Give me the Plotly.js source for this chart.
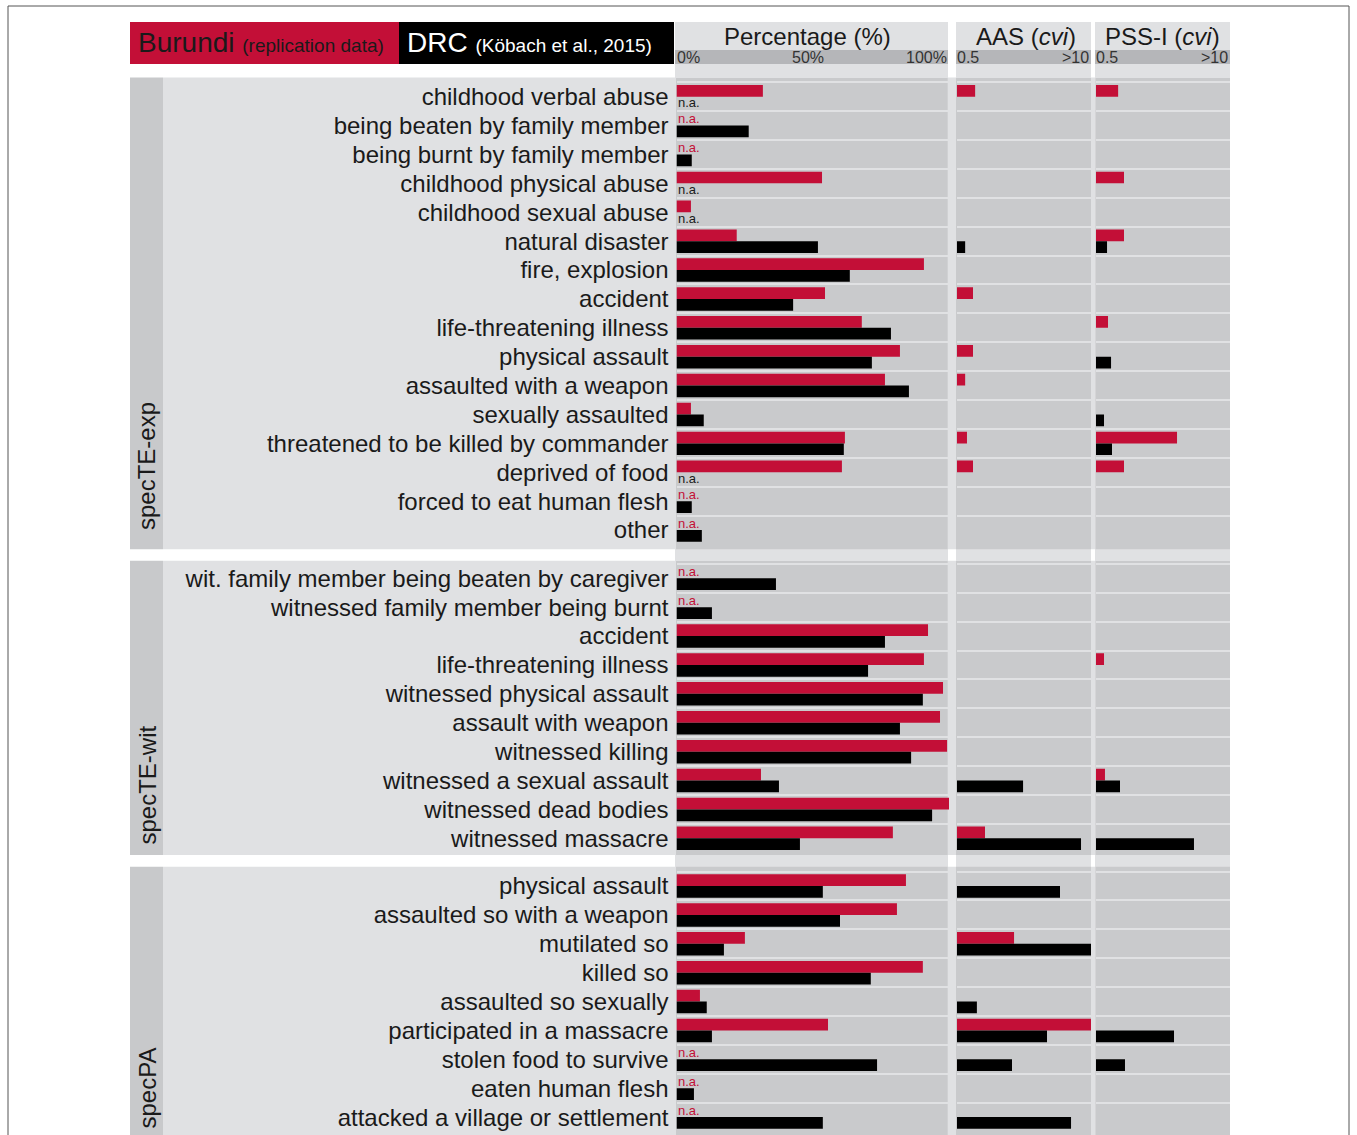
<!DOCTYPE html>
<html>
<head>
<meta charset="utf-8">
<script src="https://cdn.plot.ly/plotly-3.0.1.min.js"></script>
<style>
html,body{margin:0;padding:0;background:#fff;}
#chart{width:1357px;height:1135px;}
</style>
</head>
<body>
<div id="chart"></div>
<script>
// ===================== DATA =====================
const groupNames = ["specTE-exp", "specTE-wit", "specPA"];

const expLabels = ["childhood verbal abuse","being beaten by family member","being burnt by family member",
  "childhood physical abuse","childhood sexual abuse","natural disaster","fire, explosion","accident",
  "life-threatening illness","physical assault","assaulted with a weapon","sexually assaulted",
  "threatened to be killed by commander","deprived of food","forced to eat human flesh","other"];
const expBurundiPct = [31.7, null, null, 53.4, 5.3, 22.1, 90.8, 54.5, 68.0, 82.0, 76.5, 5.3, 61.8, 60.7, null, null];
const expDrcPct     = [null, 26.5, 5.6, null, null, 51.9, 63.6, 42.8, 78.7, 71.7, 85.3, 10.0, 61.4, null, 5.6, 9.3];
const expBurundiAAS = [0.75, null, null, null, null, null, null, 0.715, null, 0.715, 0.60, null, 0.625, 0.715, null, null];
const expDrcAAS     = [null, null, null, null, null, 0.60, null, null, null, null, null, null, null, null, null, null];
const expBurundiPSS = [0.82, null, null, 0.935, null, 0.935, null, null, 0.654, null, null, null, 3.06, 0.935, null, null];
const expDrcPSS     = [null, null, null, null, null, 0.64, null, null, null, 0.70, null, 0.598, 0.715, null, null, null];

const witLabels = ["wit. family member being beaten by caregiver","witnessed family member being burnt","accident",
  "life-threatening illness","witnessed physical assault","assault with weapon","witnessed killing",
  "witnessed a sexual assault","witnessed dead bodies","witnessed massacre"];
const witBurundiPct = [null, null, 92.3, 90.8, 97.8, 96.7, 99.3, 31.0, 100, 79.4];
const witDrcPct     = [36.5, 13.0, 76.5, 70.3, 90.4, 82.0, 86.1, 37.6, 93.8, 45.3];
const witBurundiAAS = [null, null, null, null, null, null, null, null, null, 0.935];
const witDrcAAS     = [null, null, null, null, null, null, null, 2.19, null, 8.0];
const witBurundiPSS = [null, null, null, 0.598, null, null, null, 0.611, null, null];
const witDrcPSS     = [null, null, null, null, null, null, null, 0.855, null, 4.47];

const paLabels = ["physical assault","assaulted so with a weapon","mutilated so","killed so","assaulted so sexually",
  "participated in a massacre","stolen food to survive","eaten human flesh","attacked a village or settlement"];
const paBurundiPct = [84.2, 80.9, 25.1, 90.4, 8.6, 55.6, null, null, null];
const paDrcPct     = [53.7, 60.0, 17.4, 71.3, 11.1, 13.0, 73.6, 6.4, 53.7];
const paBurundiAAS = [null, null, 1.79, null, null, 12, null, null, null];
const paDrcAAS     = [5.0, null, 12, null, 0.78, 3.74, 1.71, null, 6.4];
const paBurundiPSS = [null, null, null, null, null, null, null, null, null];
const paDrcPSS     = [null, null, null, null, null, 2.86, 0.956, null, null];

const pctTickVals = [0, 50, 100];
const pctTickText = ["0%", "50%", "100%"];
const cviTickVals = [0.5, 10];
const cviTickText = ["0.5", ">10"];
const columnTitles = ["Percentage (%)", "AAS (<i>cvi</i>)", "PSS-I (<i>cvi</i>)"];
const seriesNames = ["Burundi <span style='font-size:19px'>(replication data)</span>",
                     "DRC <span style='font-size:19px'>(Köbach et al., 2015)</span>"];

// ===================== STYLE / GEOMETRY =====================
const W = 1357, H = 1135;
const fx = px => px / W;
const fy = py => 1 - py / H;
const RED = "#c30f37", BLACK = "#000000";
const LIGHT = "#e0e1e3", PANEL = "#c9cacc", STRIP = "#c8c9cb", TICKBAND = "#b5b6b9";
const FONT = "Liberation Sans, Arial, Helvetica, sans-serif";
const PITCH = 28.89;

const groups = [
  {labels: expLabels, pct: [expBurundiPct, expDrcPct], aas: [expBurundiAAS, expDrcAAS], pss: [expBurundiPSS, expDrcPSS],
   top: 78, bottom: 549.3, c0: 96.7, band: [77.5, 549.3], stripY: 466.5},
  {labels: witLabels, pct: [witBurundiPct, witDrcPct], aas: [witBurundiAAS, witDrcAAS], pss: [witBurundiPSS, witDrcPSS],
   top: 561, bottom: 855, c0: 578.3, band: [560.7, 855], stripY: 785},
  {labels: paLabels, pct: [paBurundiPct, paDrcPct], aas: [paBurundiAAS, paDrcAAS], pss: [paBurundiPSS, paDrcPSS],
   top: 866.7, bottom: 1135, c0: 886, band: [866.7, 1170], stripY: 1088}
];
const cols = [
  {dom: [676.5, 949], bg: [675, 948], panel: [676, 947.7], titleX: 807.5},
  {dom: [957, 1091], bg: [956, 1091], panel: [956, 1091], titleX: 1026},
  {dom: [1096, 1230], bg: [1095, 1230], panel: [1095.5, 1230], titleX: 1162}
];
const seriesColors = [RED, BLACK];

// ===================== TRACES =====================
const traces = [];
groups.forEach((g, gi) => {
  const yname = gi === 0 ? "y" : "y" + (gi + 1);
  const colData = [g.pct, g.aas, g.pss];
  colData.forEach((pair, ci) => {
    const xname = ci === 0 ? "x" : "x" + (ci + 1);
    pair.forEach((vals, si) => {
      traces.push({
        type: "bar", orientation: "h",
        x: vals, y: g.labels,
        xaxis: xname, yaxis: yname,
        marker: {color: seriesColors[si], line: {width: 0}},
        hoverinfo: "skip", showlegend: false
      });
    });
  });
});

// ===================== LAYOUT =====================
const layout = {
  width: W, height: H, autosize: false,
  margin: {l: 0, r: 0, t: 0, b: 0, pad: 0},
  paper_bgcolor: "#ffffff", plot_bgcolor: "rgba(0,0,0,0)",
  barmode: "group", bargap: 0.187, bargroupgap: 0,
  font: {family: FONT, color: "#1a1a1a"},
  showlegend: false,
  shapes: [], annotations: []
};

const lg = Math.log10;
cols.forEach((c, ci) => {
  const name = ci === 0 ? "xaxis" : "xaxis" + (ci + 1);
  layout[name] = {
    domain: [fx(c.dom[0]), fx(c.dom[1])],
    type: ci === 0 ? "linear" : "log",
    range: ci === 0 ? [0, 100] : [lg(0.5), lg(10)],
    anchor: "y", showgrid: false, zeroline: false, showticklabels: false, ticks: "",
    showline: false, fixedrange: true
  };
});
groups.forEach((g, gi) => {
  const name = gi === 0 ? "yaxis" : "yaxis" + (gi + 1);
  const vTop = -(g.c0 - g.top) / PITCH;
  const vBot = (g.bottom - g.c0) / PITCH;
  layout[name] = {
    domain: [fy(g.bottom), fy(g.top)],
    type: "category", categoryorder: "array", categoryarray: g.labels,
    range: [vBot, vTop],
    tickmode: "linear", tick0: 0, dtick: 1,
    anchor: "x", tickson: "boundaries",
    showgrid: true, gridcolor: LIGHT, gridwidth: 2,
    zeroline: false, showline: false, ticks: "",
    tickfont: {family: FONT, size: 24, color: "#1a1a1a"},
    ticklabelstandoff: 7, fixedrange: true
  };
});

// ---- background shapes ----
const rect = (x0, x1, y0, y1, fill) => ({
  type: "rect", xref: "paper", yref: "paper", layer: "below",
  x0: fx(x0), x1: fx(x1), y0: fy(y1), y1: fy(y0),
  fillcolor: fill, line: {width: 0}
});
cols.forEach(c => layout.shapes.push(rect(c.bg[0], c.bg[1], 22, 1170, LIGHT)));
groups.forEach(g => {
  layout.shapes.push(rect(163, 1230, g.band[0], g.band[1], LIGHT));
  layout.shapes.push(rect(130, 163, g.band[0], g.band[1], STRIP));
});
cols.forEach(c => layout.shapes.push(rect(c.bg[0], c.bg[1], 50, 64, TICKBAND)));
groups.forEach(g => cols.forEach(c => layout.shapes.push(rect(c.panel[0], c.panel[1], g.top, g.bottom, PANEL))));
layout.shapes.push(rect(130, 399, 22, 64, RED));
layout.shapes.push(rect(399, 674, 22, 64, BLACK));
layout.shapes.push({type: "rect", xref: "paper", yref: "paper", layer: "above",
  x0: fx(8), x1: fx(1349), y0: fy(1170), y1: fy(6),
  fillcolor: "rgba(0,0,0,0)", line: {color: "#555555", width: 1}});

// ---- header texts ----
layout.annotations.push({xref: "paper", yref: "paper", x: fx(136), y: fy(42), xanchor: "left", yanchor: "middle",
  text: seriesNames[0], showarrow: false, font: {family: FONT, size: 28, color: "#1a1a1a"}});
layout.annotations.push({xref: "paper", yref: "paper", x: fx(405), y: fy(42), xanchor: "left", yanchor: "middle",
  text: seriesNames[1], showarrow: false, font: {family: FONT, size: 28, color: "#ffffff"}});
cols.forEach((c, ci) => {
  layout.annotations.push({xref: "paper", yref: "paper", x: fx(c.titleX), y: fy(37), xanchor: "center", yanchor: "middle",
    text: columnTitles[ci], showarrow: false, font: {family: FONT, size: 24, color: "#1a1a1a"}});
  const xr = ci === 0 ? "x" : "x" + (ci + 1);
  const vals = ci === 0 ? pctTickVals : cviTickVals;
  const txt = ci === 0 ? pctTickText : cviTickText;
  vals.forEach((v, k) => {
    const anchor = k === 0 ? "left" : (k === vals.length - 1 ? "right" : "center");
    layout.annotations.push({xref: xr, yref: "paper", x: ci === 0 ? v : lg(v), y: fy(57),
      xanchor: anchor, yanchor: "middle", xshift: anchor === "left" ? -2 : (anchor === "right" ? 0 : -5),
      text: txt[k], showarrow: false, font: {family: FONT, size: 16, color: "#333333"}});
  });
});

// ---- group strip labels ----
groups.forEach((g, gi) => {
  layout.annotations.push({xref: "paper", yref: "paper", x: fx(146.5), y: fy(g.stripY), xanchor: "center", yanchor: "middle",
    textangle: -90, text: groupNames[gi], showarrow: false, font: {family: FONT, size: 24, color: "#1a1a1a"}});
});

// ---- n.a. labels for missing percentages ----
groups.forEach((g, gi) => {
  const yr = gi === 0 ? "y" : "y" + (gi + 1);
  g.pct.forEach((vals, si) => {
    vals.forEach((v, k) => {
      if (v === null) {
        layout.annotations.push({xref: "x", yref: yr, x: 0, y: g.labels[k], xanchor: "left", yanchor: "middle",
          xshift: -1, yshift: si === 0 ? 7 : -6, text: "n.a.", showarrow: false,
          font: {family: FONT, size: 13, color: si === 0 ? RED : "#1a1a1a"}});
      }
    });
  });
});

Plotly.newPlot("chart", traces, layout, {displayModeBar: false, staticPlot: true});
</script>
</body>
</html>
